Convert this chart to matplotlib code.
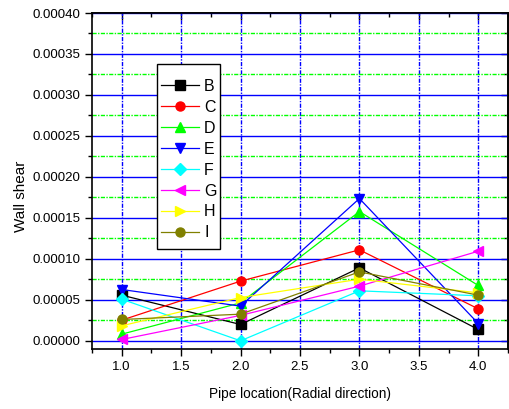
import matplotlib
matplotlib.use("Agg")
import matplotlib.pyplot as plt
from matplotlib.patches import Rectangle
from matplotlib.ticker import MultipleLocator, FormatStrFormatter, NullFormatter

plt.rcParams['font.family'] = ['Liberation Sans', 'DejaVu Sans']

x = [1.0, 2.0, 3.0, 4.0]
labels = ["B", "C", "D", "E", "F", "G", "H", "I"]
B = [0.0000557, 0.0000199, 0.0000890, 0.0000138]
C = [0.0000252, 0.0000728, 0.0001110, 0.0000390]
D = [0.0000081, 0.0000463, 0.0001577, 0.0000675]
E = [0.0000626, 0.0000423, 0.0001736, 0.0000211]
F = [0.0000508, 0.0000000, 0.0000610, 0.0000549]
G = [0.0000016, 0.0000310, 0.0000667, 0.0001093]
H = [0.0000183, 0.0000528, 0.0000752, 0.0000585]
I = [0.0000260, 0.0000325, 0.0000841, 0.0000557]
series = [B, C, D, E, F, G, H, I]
colors = ["black", "red", "#00ff00", "blue", "cyan", "magenta", "yellow", "#808000"]
markers = ["s", "o", "^", "v", "D", "<", ">", "o"]

fig = plt.figure(figsize=(5.09, 4.09), dpi=100)
ax = fig.add_axes([0.1807, 0.1467, 0.8173, 0.8215])

for vals, lab, c, m in zip(series, labels, colors, markers):
    ms = 6 if m == "D" else 6.5
    ax.plot(x, vals, color=c, marker=m, markersize=ms, linewidth=0.9,
            markeredgecolor=c, label=lab)

ax.set_xlim(0.75, 4.25)
ax.set_ylim(-0.00001, 0.0004)
ax.xaxis.set_major_locator(MultipleLocator(0.5))
ax.xaxis.set_minor_locator(MultipleLocator(0.25))
ax.yaxis.set_major_locator(MultipleLocator(0.00005))
ax.yaxis.set_minor_locator(MultipleLocator(0.000025))
ax.xaxis.set_major_formatter(FormatStrFormatter("%.1f"))
ax.yaxis.set_major_formatter(FormatStrFormatter("%.5f"))

ax.yaxis.grid(True, which="major", color="blue", linestyle="-", linewidth=1)
ax.yaxis.grid(True, which="minor", color="#00ff00", linestyle=(0, (3, 1, 1, 1)), linewidth=1)
ax.xaxis.grid(True, which="major", color="blue", linestyle=(0, (3, 1, 1, 1)), linewidth=1)
ax.set_axisbelow(True)

ax.tick_params(axis="both", which="both", direction="out", labelsize=9.5,
               top=False, right=False)
ax.tick_params(which="major", length=5, width=1)
ax.tick_params(which="minor", length=3, width=1)
for s in ax.spines.values():
    s.set_linewidth(1.2)

# inward ticks on top and right, no labels
top = ax.secondary_xaxis("top")
top.xaxis.set_major_locator(MultipleLocator(0.5))
top.xaxis.set_minor_locator(MultipleLocator(0.25))
top.xaxis.set_major_formatter(NullFormatter())
right = ax.secondary_yaxis("right")
right.yaxis.set_major_locator(MultipleLocator(0.00005))
right.yaxis.set_minor_locator(MultipleLocator(0.000025))
right.yaxis.set_major_formatter(NullFormatter())
for sec in (top, right):
    sec.tick_params(which="both", direction="in", width=1)
    sec.tick_params(which="major", length=5)
    sec.tick_params(which="minor", length=3)
    for s in sec.spines.values():
        s.set_linewidth(1.2)

ax.set_xlabel("Pipe location(Radial direction)", fontsize=9.8, labelpad=10)
ax.set_ylabel("Wall shear", fontsize=11)
ax.yaxis.set_label_coords(-0.154, 0.455)

# legend box (Origin style: tall frame, tight sides)
box = Rectangle((157 / 509, 1 - 249 / 409), 63 / 509, 185 / 409,
                transform=fig.transFigure, facecolor="white",
                edgecolor="black", linewidth=1, zorder=4)
fig.add_artist(box)
leg = fig.legend(*ax.get_legend_handles_labels(), loc="upper left",
                 bbox_to_anchor=(161 / 509, 1 - 79 / 409), fontsize=11.5,
                 frameon=False, handlelength=2.4, labelspacing=0.37,
                 borderpad=0, borderaxespad=0, handletextpad=0.3)
leg.set_zorder(5)

fig.savefig("out.png", dpi=100)
